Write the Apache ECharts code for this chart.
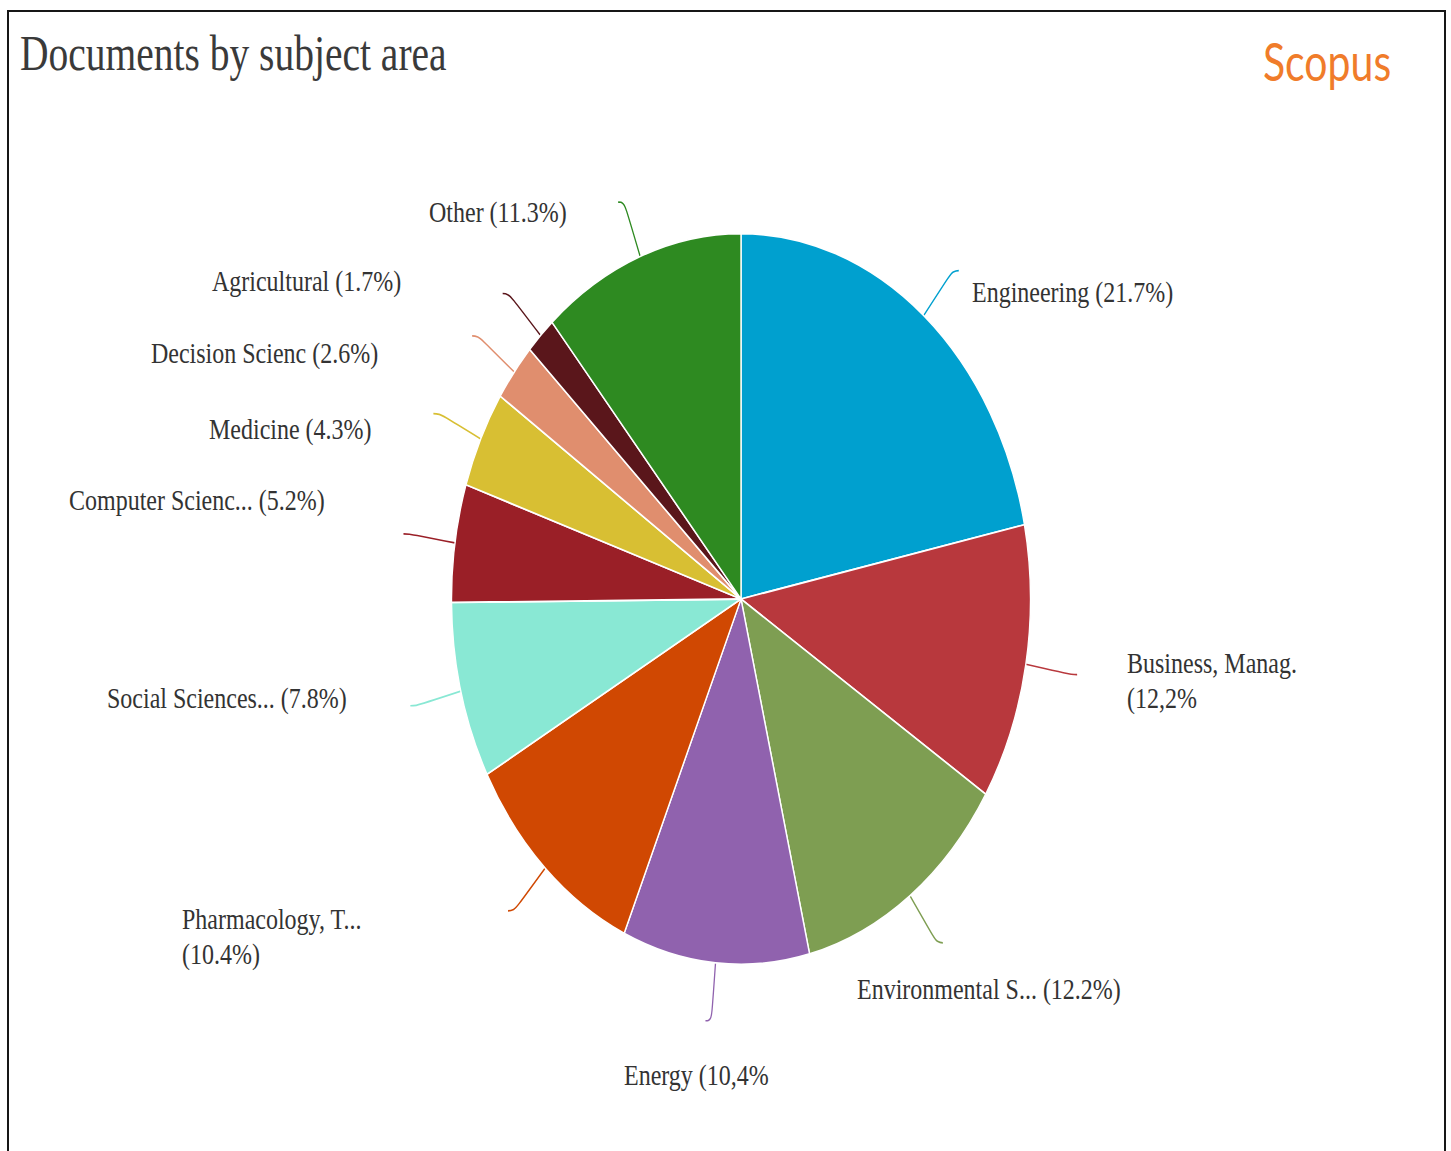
<!DOCTYPE html>
<html>
<head>
<meta charset="utf-8">
<title>Documents by subject area</title>
<script src="https://cdn.jsdelivr.net/npm/echarts@6/dist/echarts.min.js"></script>
<style>
  html, body { margin: 0; padding: 0; background: #ffffff; }
  body { width: 1451px; height: 1151px; position: relative; overflow: hidden; }
  #frame {
    position: absolute; left: 7px; top: 10px; width: 1439px; height: 1150px;
    border: 2px solid #161616; border-bottom: none; box-sizing: border-box;
  }
  /* the chart is laid out on a shorter canvas and stretched tall */
  #chart {
    position: absolute; left: 0; top: 0; width: 1451px; height: 912px;
    transform-origin: 0 0; transform: scaleY(1.2621);
  }
</style>
</head>
<body>
<div id="chart"></div>
<div id="frame"></div>
<script>
// Subject areas, clockwise from 12 o'clock
const categories = [
  'Engineering', 'Business, Manag.', 'Environmental S...', 'Energy',
  'Pharmacology, T...', 'Social Sciences...', 'Computer Scienc...',
  'Medicine', 'Decision Scienc', 'Agricultural', 'Other'
];
// Share of documents, percent
const shares = [21.7, 12.2, 12.2, 10.4, 10.4, 7.8, 5.2, 4.3, 2.6, 1.7, 11.3];
// How each label is written ({v}: decimal point, {c}: decimal comma)
const labelPatterns = [
  '{n} ({v}%)', '{n}\n({c}%', '{n} ({v}%)', '{n} ({c}%', '{n}\n({v}%)',
  '{n} ({v}%)', '{n} ({v}%)', '{n} ({v}%)', '{n} ({v}%)', '{n} ({v}%)', '{n} ({v}%)'
];

const sliceColors = [
  '#00a0cf', '#b8383d', '#7e9e52', '#9062ae', '#d04802', '#89e8d4',
  '#9a1f27', '#d8bf33', '#e08e6e', '#5a161b', '#2e8a21'
];
// Where each label's left edge / vertical middle sits
const labelSpots = [
  [972, 231], [1127, 539], [857, 784], [624, 852], [182, 742], [107, 553],
  [69, 396], [209, 340], [151, 280], [212, 223], [429, 168]
];

const chart = echarts.init(document.getElementById('chart'), null, {
  renderer: 'svg', width: 1451, height: 912
});

const pieData = categories.map((name, i) => ({
  name: name,
  value: shares[i],
  itemStyle: { color: sliceColors[i] },
  labelLine: { lineStyle: { color: sliceColors[i] } }
}));

function labelText(i) {
  const v = String(shares[i]);
  return labelPatterns[i]
    .replace('{n}', categories[i])
    .replace('{v}', v)
    .replace('{c}', v.replace('.', ','));
}

chart.setOption({
  animation: false,
  title: [
    {
      text: 'Documents by subject area',
      left: 20, top: 22, padding: 0,
      textStyle: {
        fontFamily: '"Liberation Serif", "Times New Roman", serif',
        fontSize: 39.5, fontWeight: 'normal', color: '#3a3a3a'
      }
    },
    {
      text: 'Scopus',
      left: 1263, top: 28, padding: 0,
      textStyle: {
        fontFamily: 'Lato, "Open Sans", sans-serif',
        fontSize: 41, fontWeight: 'normal', color: '#f07c2a'
      }
    }
  ],
  series: [{
    type: 'pie',
    center: [741, 474.6],
    radius: [0, 289.5],
    startAngle: 90,
    clockwise: true,
    avoidLabelOverlap: false,
    data: pieData,
    itemStyle: { borderColor: '#ffffff', borderWidth: 1.4 },
    label: {
      show: true,
      position: 'outside',
      formatter: p => labelText(p.dataIndex),
      fontFamily: '"Liberation Serif", "Times New Roman", serif',
      fontSize: 24,
      lineHeight: 28,
      color: '#333333'
    },
    labelLine: {
      show: true,
      length: 46,
      length2: 6,
      smooth: 0.5,
      lineStyle: { width: 1.3 }
    },
    labelLayout: function (params) {
      const spot = labelSpots[params.dataIndex];
      return {
        x: spot[0],
        y: spot[1],
        align: 'left',
        verticalAlign: 'middle',
        labelLinePoints: params.labelLinePoints
      };
    },
    emphasis: { disabled: true }
  }]
});
</script>
</body>
</html>
